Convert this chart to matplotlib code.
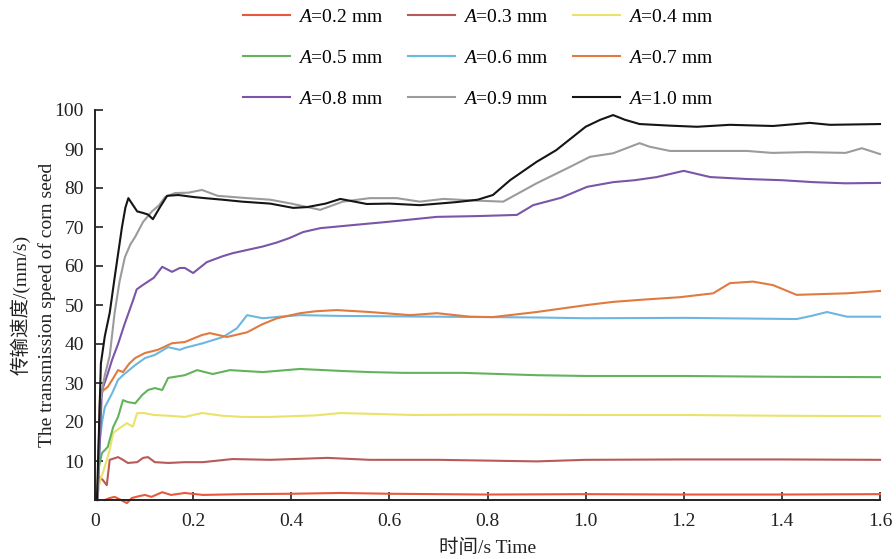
import matplotlib
matplotlib.use("Agg")
import matplotlib.pyplot as plt

plt.rcParams['font.family'] = ['Liberation Serif', 'Noto Sans CJK SC', 'DejaVu Sans']
plt.rcParams['mathtext.fontset'] = 'custom'
plt.rcParams['mathtext.it'] = 'Liberation Serif:italic'
plt.rcParams['mathtext.rm'] = 'Liberation Serif'

# ---------------- data ----------------
labels = ["$A$=0.2 mm", "$A$=0.3 mm", "$A$=0.4 mm",
          "$A$=0.5 mm", "$A$=0.6 mm", "$A$=0.7 mm",
          "$A$=0.8 mm", "$A$=0.9 mm", "$A$=1.0 mm"]
colors = ["#e8583c", "#b85a58", "#e9e36a", "#62b35c", "#6cb6e2",
          "#e07a3e", "#7a55a8", "#9b9b9b", "#151515"]

t02 = [0.02, 0.03, 0.04, 0.05, 0.065, 0.075, 0.09, 0.102, 0.115, 0.137, 0.155, 0.183,
       0.22, 0.3, 0.4, 0.5, 0.6, 0.8, 1.0, 1.2, 1.4, 1.6]
v02 = [0, 0.5, 0.8, 0.2, -0.8, 0.5, 1.0, 1.3, 0.8, 2.0, 1.3, 1.8,
       1.3, 1.5, 1.6, 1.8, 1.6, 1.4, 1.5, 1.4, 1.4, 1.5]

t03 = [0.004, 0.01, 0.016, 0.024, 0.03, 0.047, 0.057, 0.067, 0.086, 0.098, 0.108, 0.122,
       0.15, 0.183, 0.22, 0.28, 0.357, 0.474, 0.56, 0.7, 0.9, 1.0, 1.2, 1.4, 1.6]
v03 = [0, 5.9, 5.1, 3.8, 10.3, 11, 10.3, 9.5, 9.7, 10.8, 11, 9.7,
       9.5, 9.7, 9.7, 10.5, 10.3, 10.8, 10.3, 10.3, 9.9, 10.3, 10.4, 10.4, 10.3]

t04 = [0.004, 0.01, 0.016, 0.03, 0.037, 0.051, 0.065, 0.077, 0.086, 0.1, 0.12, 0.15,
       0.183, 0.218, 0.26, 0.3, 0.357, 0.45, 0.5, 0.65, 0.8, 1.0, 1.2, 1.4, 1.6]
v04 = [0, 5.1, 6.9, 12.8, 17.2, 18.5, 19.7, 18.8, 22.3, 22.3, 21.8, 21.6,
       21.3, 22.3, 21.6, 21.3, 21.3, 21.7, 22.3, 21.8, 21.9, 21.8, 21.8, 21.6, 21.5]

t05 = [0.004, 0.008, 0.014, 0.026, 0.037, 0.047, 0.057, 0.067, 0.082, 0.096, 0.108, 0.122,
       0.137, 0.149, 0.183, 0.208, 0.24, 0.275, 0.342, 0.418, 0.5, 0.56, 0.628, 0.75,
       0.9, 1.0, 1.2, 1.4, 1.6]
v05 = [0, 8.5, 12, 13.6, 18.7, 21.3, 25.6, 25.1, 24.8, 26.9, 28.2, 28.7,
       28.2, 31.3, 32, 33.3, 32.3, 33.3, 32.8, 33.6, 33.1, 32.8, 32.6, 32.6,
       32, 31.8, 31.8, 31.6, 31.5]

t06 = [0.005, 0.01, 0.014, 0.02, 0.035, 0.047, 0.057, 0.082, 0.102, 0.122, 0.149, 0.173,
       0.183, 0.22, 0.261, 0.289, 0.31, 0.342, 0.377, 0.418, 0.5, 0.7, 0.9, 1.0, 1.2,
       1.43, 1.46, 1.492, 1.533, 1.6]
v06 = [0, 15.4, 19.7, 23.8, 27.4, 30.8, 32, 34.6, 36.4, 37.2, 39.2, 38.5,
       39, 40.2, 41.8, 44, 47.4, 46.6, 47, 47.4, 47.2, 47, 46.8, 46.6, 46.7,
       46.4, 47.2, 48.2, 47, 47]

t07 = [0.005, 0.01, 0.016, 0.026, 0.036, 0.047, 0.057, 0.07, 0.082, 0.102, 0.128, 0.157,
       0.183, 0.218, 0.234, 0.269, 0.31, 0.34, 0.371, 0.418, 0.45, 0.493, 0.56, 0.642,
       0.697, 0.764, 0.811, 0.9, 1.003, 1.056, 1.12, 1.192, 1.26, 1.294, 1.341, 1.382,
       1.43, 1.48, 1.533, 1.6]
v07 = [0, 25.6, 28, 29, 31, 33.3, 32.8, 35, 36.4, 37.7, 38.5, 40.2,
       40.5, 42.3, 42.8, 41.8, 43, 45, 46.6, 47.9, 48.4, 48.7, 48.2, 47.4,
       47.9, 47, 46.9, 48.2, 50, 50.8, 51.4, 52, 53, 55.6, 56, 55.1,
       52.6, 52.8, 53, 53.6]

t08 = [0.005, 0.014, 0.025, 0.035, 0.047, 0.06, 0.077, 0.085, 0.096, 0.108, 0.12, 0.137,
       0.157, 0.173, 0.183, 0.2, 0.228, 0.26, 0.281, 0.342, 0.37, 0.397, 0.424, 0.459,
       0.526, 0.595, 0.697, 0.78, 0.86, 0.893, 0.95, 1.003, 1.056, 1.1, 1.145, 1.2,
       1.254, 1.329, 1.4, 1.464, 1.53, 1.6]
v08 = [0, 28, 32, 36, 40, 45, 51, 54, 55, 56, 57, 59.8,
       58.5, 59.5, 59.5, 58.2, 61, 62.5, 63.3, 65, 66, 67.2, 68.7, 69.7,
       70.5, 71.3, 72.6, 72.8, 73.1, 75.6, 77.5, 80.3, 81.5, 82, 82.8, 84.4,
       82.8, 82.3, 82, 81.5, 81.2, 81.3]

t09 = [0.005, 0.01, 0.02, 0.03, 0.04, 0.05, 0.061, 0.072, 0.082, 0.098, 0.116, 0.13,
       0.143, 0.163, 0.19, 0.218, 0.25, 0.3, 0.357, 0.4, 0.459, 0.505, 0.56, 0.615,
       0.662, 0.71, 0.77, 0.832, 0.9, 0.968, 1.009, 1.056, 1.11, 1.13, 1.172, 1.25,
       1.329, 1.38, 1.45, 1.53, 1.563, 1.6]
v09 = [0, 25, 32, 37, 48, 56, 62.3, 65.5, 67.5, 71.3, 74, 75.5,
       77.7, 78.7, 78.8, 79.5, 78, 77.5, 77, 76, 74.4, 76.5, 77.4, 77.4,
       76.5, 77.2, 76.8, 76.5, 81.2, 85.4, 88, 88.9, 91.5, 90.6, 89.5, 89.5,
       89.5, 89, 89.2, 89, 90.2, 88.7]

t10 = [0.004, 0.012, 0.02, 0.03, 0.04, 0.055, 0.062, 0.068, 0.078, 0.086, 0.098, 0.108,
       0.118, 0.132, 0.147, 0.17, 0.2, 0.224, 0.26, 0.3, 0.357, 0.404, 0.432, 0.47,
       0.5, 0.554, 0.6, 0.662, 0.738, 0.78, 0.811, 0.846, 0.9, 0.94, 1.0, 1.03,
       1.056, 1.08, 1.11, 1.17, 1.227, 1.294, 1.382, 1.457, 1.498, 1.55, 1.6]
v10 = [0, 35, 42, 48, 57, 70, 75, 77.4, 75.5, 74, 73.6, 73.2,
       72, 75, 78, 78.2, 77.7, 77.4, 77, 76.5, 76, 74.9, 75.1, 76,
       77.2, 75.9, 76, 75.6, 76.4, 77, 78.2, 82, 86.7, 89.7, 95.7, 97.5,
       98.7, 97.5, 96.4, 96, 95.7, 96.2, 95.9, 96.7, 96.2, 96.3, 96.4]

series_t = [t02, t03, t04, t05, t06, t07, t08, t09, t10]
series_v = [v02, v03, v04, v05, v06, v07, v08, v09, v10]

xticks = [0, 0.2, 0.4, 0.6, 0.8, 1.0, 1.2, 1.4, 1.6]
xticklabels = ["0", "0.2", "0.4", "0.6", "0.8", "1.0", "1.2", "1.4", "1.6"]
yticks = [10, 20, 30, 40, 50, 60, 70, 80, 90, 100]

# ---------------- figure ----------------
fig = plt.figure(figsize=(8.96, 5.59), dpi=100)
ax = fig.add_axes([95 / 896, 1 - 500 / 559, 785 / 896, 390 / 559])

handles = []
for t, v, c, lab in zip(series_t, series_v, colors, labels):
    h, = ax.plot(t, v, color=c, lw=1.5, label=lab, clip_on=False)
    handles.append(h)

ax.set_xlim(0, 1.6)
ax.set_ylim(0, 100)
ax.set_xticks(xticks)
ax.set_xticklabels(xticklabels)
ax.set_yticks(yticks)
ax.tick_params(direction='in', length=6, width=1.2, labelsize=14, colors='#222222')
ax.tick_params(axis='x', pad=9)
ax.tick_params(axis='y', pad=8)
for s in ['top', 'right']:
    ax.spines[s].set_visible(False)
for s in ['left', 'bottom']:
    ax.spines[s].set_linewidth(1.4)
    ax.spines[s].set_color('#222222')

ax.set_xlabel("时间/s Time", fontsize=14, color='#222222')
ax.xaxis.set_label_coords(0.5, -0.1)
ax.set_ylabel("传输速度/(mm/s)\nThe transmission speed of corn seed",
              fontsize=14, linespacing=1.5, color='#222222')
ax.yaxis.set_label_coords(-0.05, 0.5)

order = [0, 3, 6, 1, 4, 7, 2, 5, 8]
fig.legend([handles[i] for i in order], [labels[i] for i in order],
           loc='upper left', bbox_to_anchor=(243 / 896, 1 - 8 / 559), ncol=3,
           frameon=False, fontsize=14, handlelength=2.4, handletextpad=0.45,
           columnspacing=1.25, labelspacing=1.2, borderpad=0, borderaxespad=0)

fig.savefig("out.png", dpi=100)
